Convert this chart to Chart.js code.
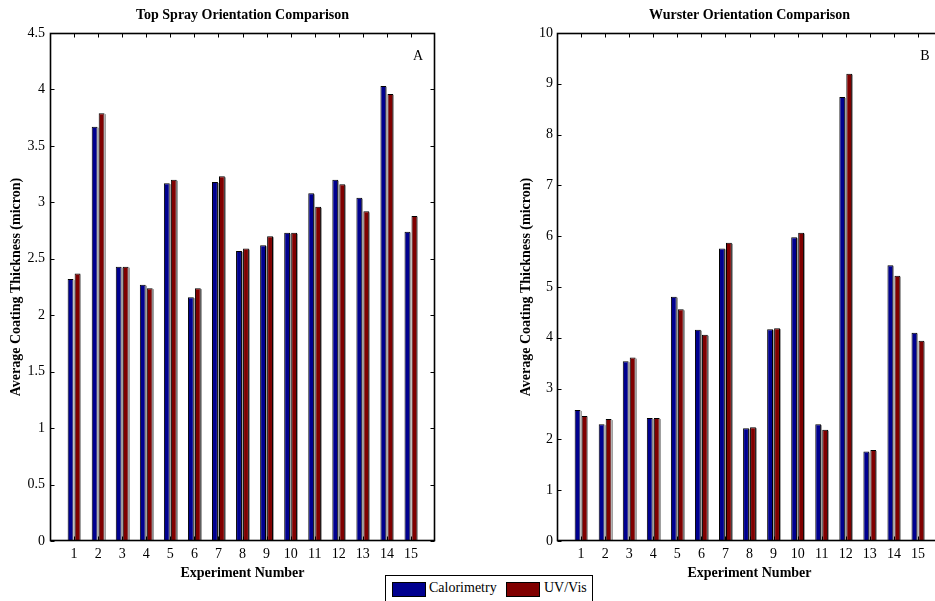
<!DOCTYPE html>
<html>
<head>
<meta charset="utf-8">
<script src="https://cdn.jsdelivr.net/npm/chart.js@4/dist/chart.umd.min.js"></script>
<style>
  html, body { margin: 0; padding: 0; background: #fff; overflow: hidden; }
  #wrap { position: relative; width: 935px; height: 601px; overflow: hidden; background: #fff; }
  #cA { position: absolute; left: 0; top: 0; }
  #cB { position: absolute; left: 510px; top: 0; }
  #legend { position: absolute; left: 385px; top: 575px; width: 206px; height: 34px;
            border: 1px solid #000; background: #fff; font: 14px "Liberation Serif", serif; color: #000; }
  #legend .sw { position: absolute; top: 6px; width: 32px; height: 13px; border: 1px solid #000; }
  #legend .lb { position: absolute; top: 3px; line-height: 18px; white-space: nowrap; }
</style>
</head>
<body>
<div id="wrap">
  <canvas id="cA" width="470" height="601"></canvas>
  <canvas id="cB" width="440" height="601"></canvas>
  <div id="legend"></div>
</div>
<script>
// Experiment numbers (x categories)
const experiments = [1, 2, 3, 4, 5, 6, 7, 8, 9, 10, 11, 12, 13, 14, 15];

// Top spray orientation: average coating thickness (micron)
const topSprayCalorimetry = [2.32, 3.67, 2.43, 2.27, 3.17, 2.16, 3.18, 2.57, 2.62, 2.73, 3.08, 3.20, 3.04, 4.03, 2.74];
const topSprayUVVis       = [2.37, 3.79, 2.43, 2.24, 3.20, 2.24, 3.23, 2.59, 2.70, 2.73, 2.96, 3.16, 2.92, 3.96, 2.88];

// Wurster orientation: average coating thickness (micron)
const wursterCalorimetry = [2.58, 2.30, 3.54, 2.42, 4.81, 4.16, 5.76, 2.22, 4.17, 5.98, 2.30, 8.74, 1.76, 5.43, 4.10];
const wursterUVVis       = [2.46, 2.40, 3.61, 2.42, 4.56, 4.06, 5.87, 2.24, 4.19, 6.07, 2.19, 9.20, 1.79, 5.22, 3.94];

// Series names and colours
const seriesNames = ['Calorimetry', 'UV/Vis'];
const seriesColors = ['#00008F', '#800000'];

const SERIF = '"Liberation Serif", "Times New Roman", serif';

// Thin grey shade along the right edge of every bar
const barShade = {
  id: 'barShade',
  afterDatasetsDraw(chart) {
    const { ctx } = chart;
    ctx.save();
    ctx.strokeStyle = '#a0a0a0';
    ctx.lineWidth = 1;
    ctx.beginPath();
    chart.data.datasets.forEach((ds, i) => {
      chart.getDatasetMeta(i).data.forEach(bar => {
        const { x, y, base, width } = bar.getProps(['x', 'y', 'base', 'width'], true);
        const px = Math.round(x + width / 2) + 0.5;
        ctx.moveTo(px, y + 1);
        ctx.lineTo(px, base);
      });
    });
    ctx.stroke();
    ctx.restore();
  }
};

// Boxed axes with inward tick marks on all four sides, plus the panel letter
function framePlugin(letter) {
  return {
    id: 'frame',
    afterDatasetsDraw(chart) {
      const { ctx, chartArea, scales } = chart;
      const { left, right, top, bottom } = chartArea;
      const x = scales.x, y = scales.y;
      const L = Math.round(left) + 0.5, R = Math.round(right) - 0.5;
      const T = Math.round(top) + 0.5, B = Math.round(bottom) - 0.5;
      ctx.save();
      ctx.strokeStyle = '#000';
      ctx.lineWidth = 1;
      ctx.beginPath();
      x.ticks.forEach(t => {
        if (t.value < 1 || t.value > 15) return;
        const px = Math.round(x.getPixelForValue(t.value)) + 0.5;
        ctx.moveTo(px, B); ctx.lineTo(px, B - 4);
        ctx.moveTo(px, T); ctx.lineTo(px, T + 4);
      });
      y.ticks.forEach(t => {
        const py = Math.round(y.getPixelForValue(t.value)) + 0.5;
        ctx.moveTo(L, py); ctx.lineTo(L + 4, py);
        ctx.moveTo(R, py); ctx.lineTo(R - 4, py);
      });
      ctx.stroke();
      ctx.lineWidth = 1.6;
      ctx.strokeRect(L, T, R - L, B - T);
      ctx.fillStyle = '#000';
      ctx.font = '14px ' + SERIF;
      ctx.textAlign = 'center';
      ctx.textBaseline = 'middle';
      ctx.fillText(letter, right - 17, top + 23);
      ctx.restore();
    }
  };
}

function makeChart(canvas, cfg) {
  return new Chart(canvas, {
    type: 'bar',
    data: {
      labels: experiments,
      datasets: [cfg.cal, cfg.uv].map((d, i) => ({
        label: seriesNames[i],
        data: d,
        backgroundColor: seriesColors[i],
        borderColor: '#000',
        borderWidth: 1,
        categoryPercentage: 0.58,
        barPercentage: 0.84
      }))
    },
    options: {
      responsive: false,
      animation: false,
      devicePixelRatio: 1,
      layout: { padding: { left: 0, right: cfg.padRight, top: 0, bottom: 0 } },
      plugins: {
        legend: { display: false },
        tooltip: { enabled: false },
        title: {
          display: true, text: cfg.title, fullSize: false, color: '#000',
          font: { family: SERIF, size: 14, weight: 'bold' },
          padding: { top: 6.5, bottom: 9.7 }
        }
      },
      scales: {
        x: {
          type: 'linear', min: 0, max: 16, offset: false,
          grid: { display: false, drawTicks: false, offset: false },
          border: { display: false },
          ticks: {
            stepSize: 1, autoSkip: false, maxRotation: 0, padding: 5, color: '#000',
            font: { family: SERIF, size: 14 },
            callback: v => (v >= 1 && v <= 15) ? String(v) : ''
          },
          title: {
            display: true, text: 'Experiment Number', color: '#000',
            font: { family: SERIF, size: 14, weight: 'bold' },
            padding: { top: 0, bottom: 19 }
          },
          afterFit(s) { s.height = 60; }
        },
        y: {
          min: 0, max: cfg.yMax,
          grid: { display: false, drawTicks: false },
          border: { display: false },
          ticks: {
            stepSize: cfg.yStep, padding: cfg.yPad, color: '#000',
            font: { family: SERIF, size: 14 },
            callback: v => String(+v.toFixed(1))
          },
          title: {
            display: true, text: 'Average Coating Thickness (micron)', color: '#000',
            font: { family: SERIF, size: 14, weight: 'bold' },
            padding: { top: 7.5, bottom: 0 }
          },
          afterFit(s) { s.width = cfg.yWidth; }
        }
      }
    },
    plugins: [barShade, framePlugin(cfg.panel)]
  });
}

makeChart(document.getElementById('cA'), {
  title: 'Top Spray Orientation Comparison', panel: 'A',
  cal: topSprayCalorimetry, uv: topSprayUVVis,
  yMax: 4.5, yStep: 0.5, yPad: 5, yWidth: 50, padRight: 35
});

makeChart(document.getElementById('cB'), {
  title: 'Wurster Orientation Comparison', panel: 'B',
  cal: wursterCalorimetry, uv: wursterUVVis,
  yMax: 10, yStep: 1, yPad: 4, yWidth: 47, padRight: 8
});

// Shared legend below the two panels
const legend = document.getElementById('legend');
const legendPos = [{ sw: 6, lb: 43 }, { sw: 120, lb: 158 }];
seriesNames.forEach((name, i) => {
  const sw = document.createElement('div');
  sw.className = 'sw';
  sw.style.left = legendPos[i].sw + 'px';
  sw.style.background = seriesColors[i];
  const lb = document.createElement('div');
  lb.className = 'lb';
  lb.style.left = legendPos[i].lb + 'px';
  lb.textContent = name;
  legend.appendChild(sw);
  legend.appendChild(lb);
});
</script>
</body>
</html>
